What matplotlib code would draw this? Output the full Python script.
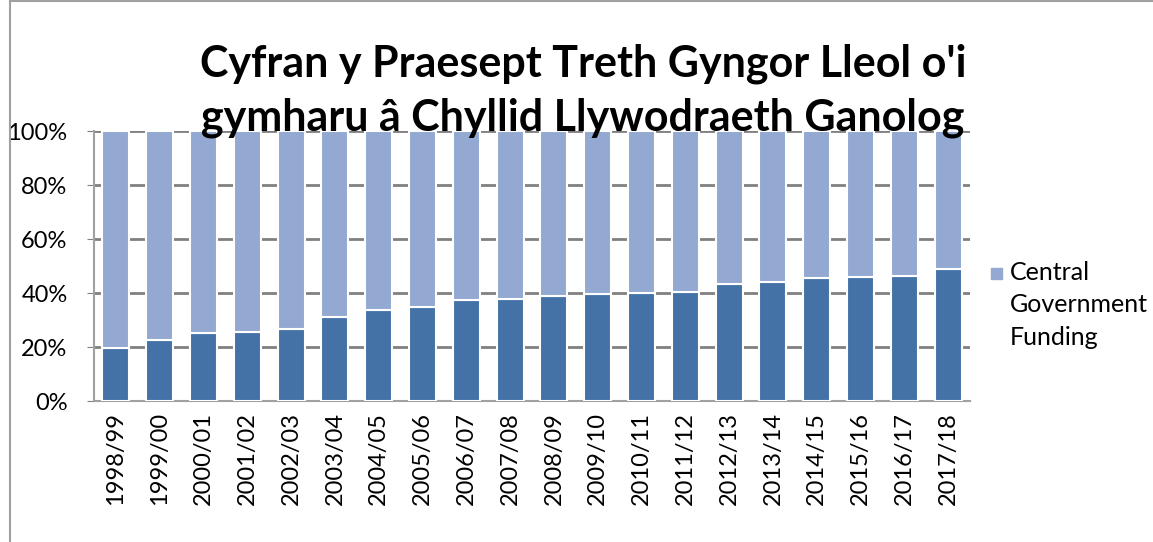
import matplotlib
matplotlib.use("Agg")
import matplotlib.pyplot as plt
import numpy as np
from matplotlib.patches import Rectangle
from matplotlib.lines import Line2D

years = ["1998/99", "1999/00", "2000/01", "2001/02", "2002/03", "2003/04", "2004/05",
         "2005/06", "2006/07", "2007/08", "2008/09", "2009/10", "2010/11", "2011/12",
         "2012/13", "2013/14", "2014/15", "2015/16", "2016/17", "2017/18"]
council_tax = [19.6, 22.5, 25.2, 25.4, 26.7, 31.0, 33.7, 34.7, 37.3, 37.8,
               38.8, 39.5, 40.0, 40.4, 43.2, 44.0, 45.5, 45.8, 46.2, 48.8]
central_gov = [100 - v for v in council_tax]
yticks = [0, 20, 40, 60, 80, 100]
title = "Cyfran y Praesept Treth Gyngor Lleol o'i\ngymharu â Chyllid Llywodraeth Ganolog"
legend_label = "Central\nGovernment\nFunding"

plt.rcParams['font.family'] = ['Lato', 'DejaVu Sans']

W, H = 1153, 542
fig = plt.figure(figsize=(W / 100, H / 100), dpi=100)
ax = fig.add_axes([94/W, 1 - 401/H, (970 - 94)/W, (401 - 131)/H])

x = np.arange(len(years))
dark = "#4472A6"
light = "#93A9D1"
ax.bar(x, council_tax, width=0.62, color=dark, edgecolor="white", linewidth=1.5, zorder=3)
ax.bar(x, central_gov, bottom=council_tax, width=0.62, color=light, edgecolor="white",
       linewidth=1.5, zorder=3)

ax.set_xlim(-0.5, len(years) - 0.5)
ax.set_ylim(0, 100)
ax.set_yticks(yticks)
ax.set_yticklabels([f"{t}%" for t in yticks], fontsize=17)
ax.set_xticks(x)
ax.set_xticklabels(years, rotation=90, fontsize=17)
ax.tick_params(axis='x', length=0, pad=8)
ax.tick_params(axis='y', length=5, color="#808080", pad=14)
ax.yaxis.grid(True, color="#808080", linewidth=2, zorder=0)
for s in ["top", "right"]:
    ax.spines[s].set_visible(False)
for s in ["left", "bottom"]:
    ax.spines[s].set_color("#a0a0a0")
    ax.spines[s].set_linewidth(1.5)

fig.text(583/W, 1 - 91/H, title, ha="center", va="center", fontsize=31,
         fontweight="bold", linespacing=1.4, zorder=5)

# legend (single entry, marker aligned with first text line)
fig.add_artist(Rectangle((991/W, 1 - 279/H), 11/W, 11/H, color=light,
                         transform=fig.transFigure))
fig.text(1010/W, 1 - 305/H, legend_label, ha="left", va="center", fontsize=18,
         linespacing=1.5)

# outer chart border
fig.add_artist(Line2D([10/W, 10/W], [0, 1], color="#a0a0a0", linewidth=1.5,
                      transform=fig.transFigure))
fig.add_artist(Line2D([10/W, 1], [1 - 1/H, 1 - 1/H], color="#a0a0a0", linewidth=1.5,
                      transform=fig.transFigure))

fig.savefig("out.png", dpi=100)
